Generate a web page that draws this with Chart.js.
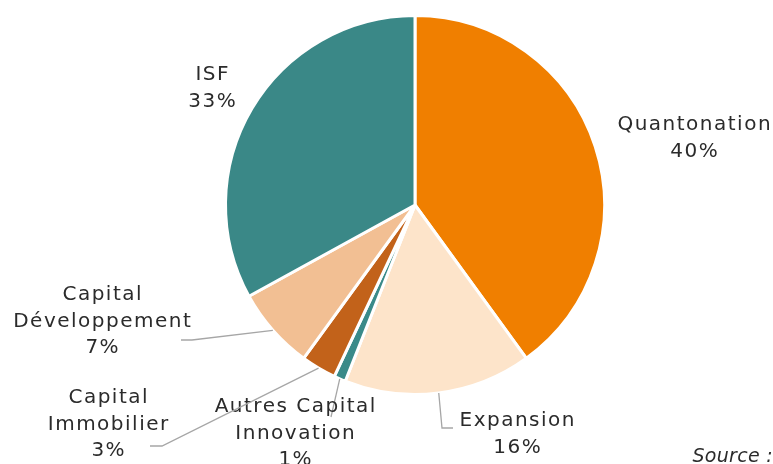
<!DOCTYPE html>
<html>
<head>
<meta charset="utf-8">
<script src="https://cdn.jsdelivr.net/npm/chart.js@4"></script>
<style>
html,body{margin:0;padding:0;background:#fff;}
#wrap{position:relative;width:773px;height:464px;}
</style>
</head>
<body>
<div id="wrap"><canvas id="c" width="773" height="464"></canvas></div>
<script>
const categories = ["Quantonation", "Expansion", "Autres Capital Innovation", "Capital Immobilier", "Capital Développement", "ISF"];
const values = [40, 16, 1, 3, 7, 33];
const percentLabels = ["40%", "16%", "1%", "3%", "7%", "33%"];
const labelLines = [["Quantonation"], ["Expansion"], ["Autres Capital", "Innovation"], ["Capital", "Immobilier"], ["Capital", "Développement"], ["ISF"]];
const colors = ["#F07F00", "#FDE4CA", "#3A8A89", "#C2621A", "#F2BF93", "#3A8887"];

// label layout: text center x, first line y, leader elbow points (null = no leader)
const labelLayout = [
  {x: 694, y: 125, leader: null},
  {x: 517, y: 421, leader: [[442, 428], [453, 428]]},
  {x: 295, y: 407, leader: [[331, 417]]},
  {x: 108, y: 398, leader: [[162, 446], [150, 446]]},
  {x: 102, y: 295, leader: [[192, 340], [181, 340]]},
  {x: 212, y: 75, leader: null}
];

const FONT = "20px 'DejaVu Sans', sans-serif";
const SPACING = '1.5px';
const LH = 26.5;

const labelPlugin = {
  id: 'outLabels',
  afterDraw(chart) {
    const ctx = chart.ctx;
    const meta = chart.getDatasetMeta(0);
    ctx.save();
    meta.data.forEach((arc, i) => {
      const L = labelLayout[i];
      if (L.leader) {
        const mid = (arc.startAngle + arc.endAngle) / 2;
        const r = arc.outerRadius;
        const sx = arc.x + Math.cos(mid) * r;
        const sy = arc.y + Math.sin(mid) * r;
        ctx.strokeStyle = '#A6A6A6';
        ctx.lineWidth = 1.3;
        ctx.beginPath();
        ctx.moveTo(sx, sy);
        L.leader.forEach(p => ctx.lineTo(p[0], p[1]));
        ctx.stroke();
      }
      ctx.fillStyle = '#2B2B2B';
      ctx.font = FONT;
      ctx.letterSpacing = SPACING;
      ctx.textAlign = 'center';
      ctx.textBaseline = 'middle';
      const lines = labelLines[i].concat([percentLabels[i]]);
      lines.forEach((t, k) => ctx.fillText(t, L.x + 0.75, L.y + k * LH));
    });
    ctx.font = "italic 19px 'DejaVu Sans', sans-serif";
    ctx.letterSpacing = '0.3px';
    ctx.textAlign = 'right';
    ctx.textBaseline = 'middle';
    ctx.fillStyle = '#2B2B2B';
    ctx.fillText('Source :', 773, 457);
    ctx.restore();
  }
};

new Chart(document.getElementById('c'), {
  type: 'pie',
  data: {
    labels: categories,
    datasets: [{
      data: values,
      backgroundColor: colors,
      borderColor: '#FFFFFF',
      borderWidth: 3
    }]
  },
  options: {
    responsive: false,
    animation: false,
    layout: {padding: {top: 14, bottom: 68, left: 57, right: 0}},
    plugins: {legend: {display: false}, tooltip: {enabled: false}}
  },
  plugins: [labelPlugin]
});
</script>
</body>
</html>
